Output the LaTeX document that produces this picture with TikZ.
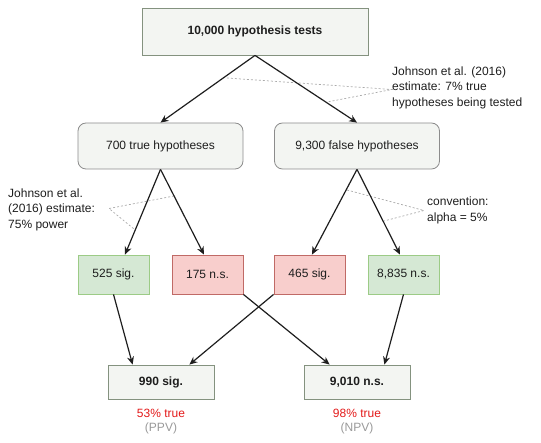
\documentclass[tikz,border=0pt]{standalone}
\usepackage{fontspec}
\setmainfont{Liberation Sans}
\usetikzlibrary{arrows.meta}
\definecolor{boxfill}{HTML}{F3F5F2}
\definecolor{boxline}{HTML}{84927F}
\definecolor{rndline}{HTML}{8C8C8C}
\definecolor{gfill}{HTML}{D5E8D4}
\definecolor{gline}{HTML}{9CCB86}
\definecolor{rfill}{HTML}{F8CECC}
\definecolor{rline}{HTML}{C06A66}
\definecolor{redtxt}{HTML}{E31A1A}
\definecolor{graytxt}{HTML}{999999}
\definecolor{dashgray}{HTML}{AAAAAA}
\definecolor{txt}{HTML}{1E1E1E}
\begin{document}
\begin{tikzpicture}[x=1pt,y=-1pt,
  every node/.style={inner sep=0pt,text=txt,font=\fontsize{12}{15.5}\selectfont},
  plainbox/.style={draw=boxline,fill=boxfill,line width=0.8pt,font=\fontsize{12}{15.5}\selectfont\bfseries},
  rndbox/.style={draw=rndline,fill=boxfill,line width=0.8pt,rounded corners=8pt,minimum width=165pt,minimum height=46pt},
  greenbox/.style={draw=gline,fill=gfill,line width=0.8pt,minimum width=71pt,minimum height=39pt},
  redbox/.style={draw=rline,fill=rfill,line width=0.8pt,minimum width=71pt,minimum height=39pt},
  conn/.style={draw=txt,line width=1.2pt,-{Stealth[length=8pt,width=7pt]}},
  note/.style={draw=dashgray,line width=0.7pt,dash pattern=on 2pt off 2pt},
  notetext/.style={align=left,anchor=west}
]
\useasboundingbox (0,0) rectangle (541,443);

\node[plainbox,minimum width=226pt,minimum height=47pt] (top) at (255,31.5) {10,000 hypothesis tests};
\node[rndbox] (tru) at (160.5,146) {700 true hypotheses};
\node[rndbox] (fal) at (357,146) {9,300 false hypotheses};

\node[greenbox] (s525) at (113.5,274.5) {525 sig.};
\node[redbox] (s175) at (207.5,274.5) {175 n.s.};
\node[redbox] (s465) at (309.5,274.5) {465 sig.};
\node[greenbox] (s8835) at (403.5,274.5) {8,835 n.s.};

\node[plainbox,minimum width=106pt,minimum height=34pt] (b990) at (161,382) {990 sig.};
\node[plainbox,minimum width=106pt,minimum height=34pt] (b9010) at (357,382) {9,010 n.s.};

\node[text=redtxt] (ppv1) at (161,413) {53\% true};
\node[text=graytxt] (ppv2) at (161,428) {(PPV)};
\node[text=redtxt] (npv1) at (357,413) {98\% true};
\node[text=graytxt] (npv2) at (357,428) {(NPV)};

% annotations
\node[notetext] (ntop) at (392,87.5) {Johnson et al. (2016)\\estimate: 7\% true\\hypotheses being tested};
\node[notetext] (nleft) at (8,209.5) {Johnson et al.\\(2016) estimate:\\75\% power};
\node[notetext] (nright) at (427,210.5) {convention:\\alpha = 5\%};

\coordinate (ta) at (227,78);
\coordinate (tb) at (327,102);
\coordinate (la) at (174,196);
\coordinate (lb) at (134,229);
\coordinate (ra) at (347,190);
\coordinate (rb) at (384,221);

\draw[note] (ta) -- ([yshift=-2pt]ntop.west) -- (tb);
\draw[note] (la) -- ([xshift=101pt,yshift=1pt]nleft.west) -- (lb);
\draw[note] (ra) -- ([xshift=-3pt]nright.west) -- (rb);

% connectors
\draw[conn] (top.south) -- (tru.north);
\draw[conn] (top.south) -- (fal.north);
\draw[conn] (tru.south) -- (s525.60);
\draw[conn] (tru.south) -- (s175.100);
\draw[conn] (fal.south) -- (s465.83);
\draw[conn] (fal.south) -- (s8835.100);
\draw[conn] (s525.south) -- ([xshift=25pt]b990.north west);
\draw[conn] (s465.south west) -- ([xshift=-25pt]b990.north east);
\draw[conn] (s175.south east) -- ([xshift=26pt]b9010.north west);
\draw[conn] (s8835.south) -- ([xshift=-26pt]b9010.north east);
\end{tikzpicture}
\end{document}
